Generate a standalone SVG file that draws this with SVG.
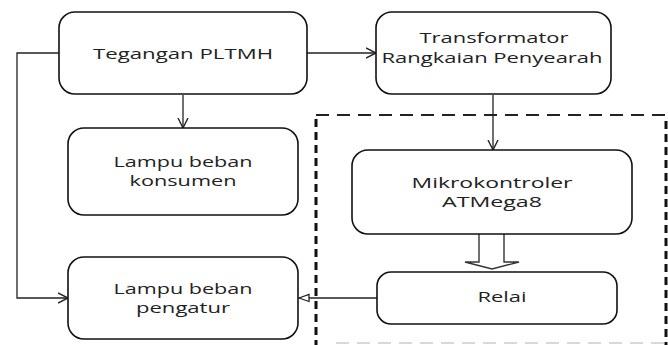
<svg xmlns="http://www.w3.org/2000/svg" width="668" height="345" viewBox="0 0 668 345">
<defs>
<style>
.box{fill:#fff;stroke:#111;stroke-width:1.6}
.t{font-family:"Open Sans","Liberation Sans",sans-serif;font-size:14px;fill:#222;text-anchor:middle}
.ln{fill:none;stroke:#222;stroke-width:1.3}
</style>
<marker id="v" markerWidth="12" markerHeight="12" refX="10" refY="5" orient="auto" markerUnits="userSpaceOnUse" viewBox="0 0 12 10">
<path d="M0,0 L10,5 L0,10" fill="none" stroke="#222" stroke-width="1.4"/>
</marker>
<marker id="tri" markerWidth="12" markerHeight="12" refX="11" refY="5" orient="auto" markerUnits="userSpaceOnUse" viewBox="0 0 12 10">
<path d="M1,1.5 L11,5 L1,8.5 Z" fill="#fff" stroke="#222" stroke-width="1.3"/>
</marker>
</defs>
<rect width="668" height="345" fill="#fff"/>
<g id="boundary">
<path d="M316,115 H668" fill="none" stroke="#222" stroke-width="2" stroke-dasharray="13,8"/>
<path d="M316,119 V345" fill="none" stroke="#111" stroke-width="3" stroke-dasharray="8,5"/>
<path d="M666,121 V345" fill="none" stroke="#111" stroke-width="3" stroke-dasharray="8,5"/>
<path d="M336,343 H668" fill="none" stroke="#ccc" stroke-width="1.5" stroke-dasharray="13,8"/>
</g>
<g id="connectors">
<path class="ln" d="M307,53 H376" marker-end="url(#v)"/>
<path class="ln" d="M183,95 V128" marker-end="url(#v)"/>
<path class="ln" d="M493,95 V150" marker-end="url(#v)"/>
<path class="ln" d="M59,53 H17 V298 H68" marker-end="url(#v)"/>
<path class="ln" d="M377,298 H299" marker-end="url(#tri)"/>
<path d="M479,234 V262 H465 L492,269 L519,262 H504 V234" fill="#fff" stroke="#333" stroke-width="1.4"/>
</g>
<g id="tegangan">
<rect class="box" x="59" y="12" width="248" height="82" rx="16"/>
<text class="t" x="183" y="59" textLength="180" lengthAdjust="spacingAndGlyphs">Tegangan PLTMH</text>
</g>
<g id="transformator">
<rect class="box" x="376" y="12" width="235" height="82" rx="16"/>
<text class="t"><tspan x="494" y="43" textLength="149" lengthAdjust="spacingAndGlyphs">Transformator</tspan><tspan x="492" y="63" textLength="221" lengthAdjust="spacingAndGlyphs">Rangkaian Penyearah</tspan></text>
</g>
<g id="konsumen">
<rect class="box" x="68" y="128" width="230" height="87" rx="16"/>
<text class="t"><tspan x="183" y="167" textLength="139" lengthAdjust="spacingAndGlyphs">Lampu beban</tspan><tspan x="183" y="186" textLength="107" lengthAdjust="spacingAndGlyphs">konsumen</tspan></text>
</g>
<g id="pengatur">
<rect class="box" x="68" y="257" width="230" height="82" rx="16"/>
<text class="t"><tspan x="183" y="294" textLength="139" lengthAdjust="spacingAndGlyphs">Lampu beban</tspan><tspan x="183" y="313" textLength="94" lengthAdjust="spacingAndGlyphs">pengatur</tspan></text>
</g>
<g id="mikrokontroler">
<rect class="box" x="352" y="150" width="280" height="84" rx="16"/>
<text class="t"><tspan x="492" y="188" textLength="161" lengthAdjust="spacingAndGlyphs">Mikrokontroler</tspan><tspan x="492" y="207" textLength="100" lengthAdjust="spacingAndGlyphs">ATMega8</tspan></text>
</g>
<g id="relai">
<rect class="box" x="377" y="272" width="240" height="52" rx="14"/>
<text class="t" x="502" y="302" textLength="49" lengthAdjust="spacingAndGlyphs">Relai</text>
</g>
</svg>
